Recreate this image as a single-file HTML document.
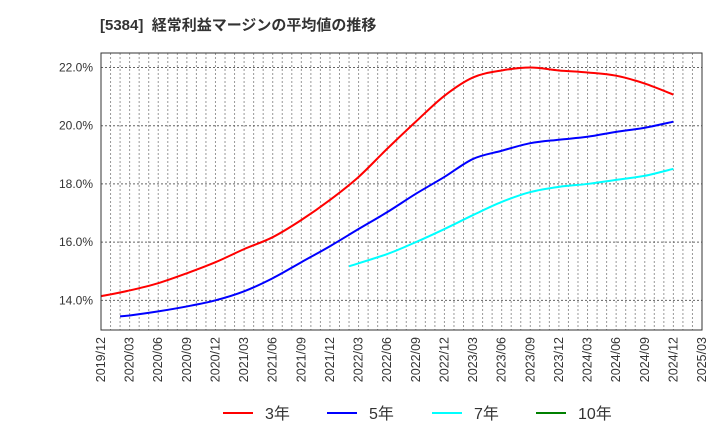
<!DOCTYPE html>
<html><head><meta charset="utf-8"><style>
body{margin:0;background:#fff;font-family:"Liberation Sans","Noto Sans CJK JP",sans-serif}
</style></head><body>
<svg id="chart" width="720" height="440" xmlns="http://www.w3.org/2000/svg">
<text x="100" y="30" font-size="15" font-weight="bold" fill="#333" xml:space="preserve">[5384]  経常利益マージンの平均値の推移</text>
<g id="grid"></g><g id="series"></g><g id="axes"></g>
<g font-size="16" fill="#333">
<line x1="223" y1="413" x2="253" y2="413" stroke="#ff0000" stroke-width="2"/><text x="265" y="419">3年</text>
<line x1="327" y1="413" x2="357" y2="413" stroke="#0000ff" stroke-width="2"/><text x="369" y="419">5年</text>
<line x1="432" y1="413" x2="462" y2="413" stroke="#00ffff" stroke-width="2"/><text x="474" y="419">7年</text>
<line x1="536" y1="413" x2="566" y2="413" stroke="#008000" stroke-width="2"/><text x="578" y="419">10年</text>
</g>
</svg>
<script>
const xLabels=["2019/12","2020/03","2020/06","2020/09","2020/12","2021/03","2021/06","2021/09","2021/12","2022/03","2022/06","2022/09","2022/12","2023/03","2023/06","2023/09","2023/12","2024/03","2024/06","2024/09","2024/12","2025/03"];
const yTicks=[14,16,18,20,22];
const s3Months=[0,3,6,9,12,15,18,21,24,27,30,33,36,39,42,45,48,51,54,57,60];
const s3Values=[14.14,14.34,14.59,14.93,15.31,15.76,16.17,16.76,17.45,18.24,19.21,20.14,21.03,21.66,21.9,22.0,21.9,21.83,21.72,21.45,21.07];
const s5Months=[2,3,6,9,12,15,18,21,24,27,30,33,36,39,42,45,48,51,54,57,60];
const s5Values=[13.45,13.48,13.62,13.79,14.0,14.31,14.76,15.31,15.86,16.45,17.03,17.66,18.24,18.86,19.14,19.4,19.52,19.62,19.79,19.93,20.14];
const s7Months=[26,30,33,36,39,42,45,48,51,54,57,60];
const s7Values=[15.17,15.59,16.0,16.45,16.93,17.38,17.72,17.9,18.0,18.14,18.28,18.52];
const L=101,R=702,T=53,B=330,NS="http://www.w3.org/2000/svg";
const xS=m=>L+(R-L)*m/63;
const yS=v=>B-(v-12.98)*(B-T)/(22.5-12.98);
function mk(tag,attrs,parent){const e=document.createElementNS(NS,tag);for(const k in attrs)e.setAttribute(k,attrs[k]);parent.appendChild(e);return e;}
const grid=document.getElementById('grid'),axes=document.getElementById('axes'),ser=document.getElementById('series');
for(let m=1;m<63;m++){const l=mk('line',{x1:xS(m),x2:xS(m),y1:T,y2:B,stroke:'#999','stroke-dasharray':'2,2'},grid);

}
yTicks.forEach(v=>{const l=mk('line',{x1:L,x2:R,y1:yS(v),y2:yS(v),stroke:'#666','stroke-dasharray':'2,2'},grid);


const t=mk('text',{x:L-8,y:yS(v)+4,'text-anchor':'end','font-size':'12',fill:'#333'},axes);t.textContent=v.toFixed(1)+'%';

});
xLabels.forEach((s,i)=>{const x=xS(i*3)+4,y=B+7;const t=mk('text',{x:x,y:y,transform:`rotate(-90 ${x} ${y})`,'text-anchor':'end','font-size':'12.5',fill:'#333'},axes);t.textContent=s;

});
const fr=mk('rect',{x:L,y:T,width:R-L,height:B-T,fill:'none',stroke:'#333','stroke-width':1},axes);


function path(ms,vs){const p=ms.map((m,i)=>[xS(m),yS(vs[i])]);let d=`M${p[0][0]},${p[0][1]}`;
for(let i=0;i<p.length-1;i++){const p0=p[Math.max(0,i-1)],p1=p[i],p2=p[i+1],p3=p[Math.min(p.length-1,i+2)];
d+=` C${p1[0]+(p2[0]-p0[0])/6},${p1[1]+(p2[1]-p0[1])/6} ${p2[0]-(p3[0]-p1[0])/6},${p2[1]-(p3[1]-p1[1])/6} ${p2[0]},${p2[1]}`;}return d;}
[[s3Months,s3Values,'#ff0000','line-3y'],[s5Months,s5Values,'#0000ff','line-5y'],[s7Months,s7Values,'#00ffff','line-7y']].forEach(([m,v,c,n])=>{
const e=mk('path',{d:path(m,v),fill:'none',stroke:c,'stroke-width':2},ser);

});
</script>
</body></html>
